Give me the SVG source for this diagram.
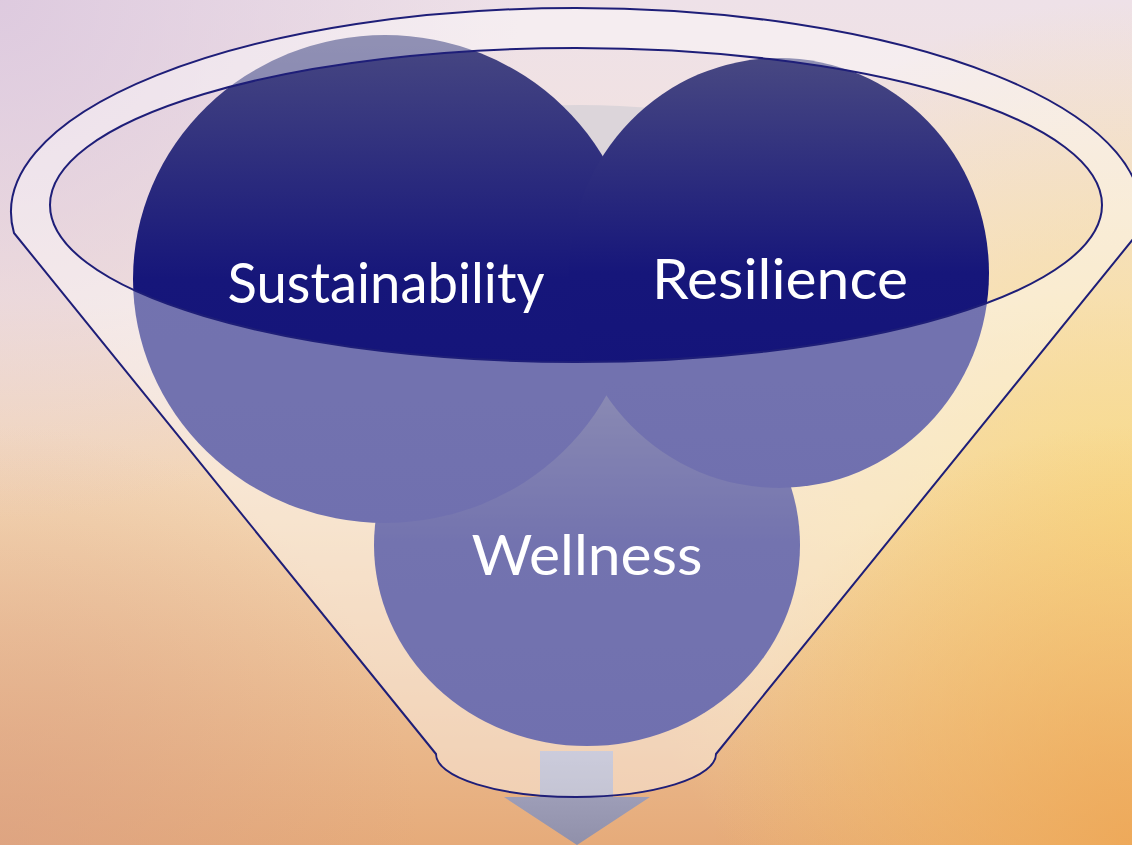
<svg xmlns="http://www.w3.org/2000/svg" width="1132" height="845" viewBox="0 0 1132 845">
  <defs>
    <!-- soft sunset backdrop -->
    <linearGradient id="bgBase" x1="0" y1="0" x2="0" y2="1">
      <stop offset="0" stop-color="#eee1e8"/>
      <stop offset="0.35" stop-color="#f5e3da"/>
      <stop offset="0.62" stop-color="#f2d2ae"/>
      <stop offset="1" stop-color="#e6ab7a"/>
    </linearGradient>
    <radialGradient id="bgLavender" cx="0" cy="0" r="520" gradientUnits="userSpaceOnUse">
      <stop offset="0" stop-color="#dcc8de" stop-opacity="0.9"/>
      <stop offset="1" stop-color="#dcc8de" stop-opacity="0"/>
    </radialGradient>
    <radialGradient id="bgYellow" cx="1132" cy="520" r="520" gradientUnits="userSpaceOnUse">
      <stop offset="0" stop-color="#f9dc86" stop-opacity="0.9"/>
      <stop offset="1" stop-color="#f9dc86" stop-opacity="0"/>
    </radialGradient>
    <radialGradient id="bgOrange" cx="1132" cy="845" r="420" gradientUnits="userSpaceOnUse">
      <stop offset="0" stop-color="#eea654" stop-opacity="0.85"/>
      <stop offset="1" stop-color="#eea654" stop-opacity="0"/>
    </radialGradient>
    <radialGradient id="bgRose" cx="0" cy="845" r="420" gradientUnits="userSpaceOnUse">
      <stop offset="0" stop-color="#d9a086" stop-opacity="0.6"/>
      <stop offset="1" stop-color="#d9a086" stop-opacity="0"/>
    </radialGradient>

    <!-- circle fill: lighter at the top, deep navy below -->
    <linearGradient id="ballFill" x1="0" y1="0" x2="0" y2="1">
      <stop offset="0" stop-color="#484882"/>
      <stop offset="0.5" stop-color="#16167a"/>
      <stop offset="1" stop-color="#12127a"/>
    </linearGradient>

    <linearGradient id="arrowFill" x1="0" y1="0" x2="0" y2="1">
      <stop offset="0" stop-color="#aaaac4"/>
      <stop offset="1" stop-color="#9090aa"/>
    </linearGradient>
  </defs>

  <style>
    .ball { fill: url(#ballFill); }
    .label { fill: #ffffff; font-family: Lato, "Open Sans", "Liberation Sans", sans-serif; font-size: 56px; text-anchor: middle; }
    .funnel-glass { fill: #ffffff; fill-opacity: 0.4; fill-rule: evenodd; }
    .funnel-edge { fill: none; stroke: #1e1e78; stroke-width: 2; stroke-linejoin: round; }
  </style>

  <!-- backdrop -->
  <g id="background">
    <rect width="1132" height="845" fill="url(#bgBase)"/>
    <rect width="1132" height="845" fill="url(#bgLavender)"/>
    <rect width="1132" height="845" fill="url(#bgYellow)"/>
    <rect width="1132" height="845" fill="url(#bgOrange)"/>
    <rect width="1132" height="845" fill="url(#bgRose)"/>
  </g>

  <!-- outflow arrow under the funnel spout -->
  <g id="arrow">
    <path d="M540 751 H613 V797 H650 L577 845 L504 797 H540 Z" fill="url(#arrowFill)"/>
  </g>

  <!-- dim funnel interior visible between the two upper circles -->
  <g id="funnel-back">
    <path d="M540 106 Q600 103 660 109 L660 200 L540 200 Z" fill="#dcd5da"/>
  </g>

  <g id="node-wellness">
    <ellipse class="ball" cx="587" cy="545" rx="213" ry="201"/>
    <text class="label" x="587" y="575" textLength="231" lengthAdjust="spacingAndGlyphs">Wellness</text>
  </g>

  <g id="node-sustainability">
    <ellipse class="ball" cx="385" cy="279" rx="252" ry="244"/>
    <text class="label" x="386" y="303" textLength="317" lengthAdjust="spacingAndGlyphs">Sustainability</text>
  </g>

  <g id="node-resilience">
    <ellipse class="ball" cx="779" cy="273" rx="210" ry="215"/>
    <text class="label" x="780" y="299" textLength="256" lengthAdjust="spacingAndGlyphs">Resilience</text>
  </g>

  <!-- translucent funnel body with an open mouth -->
  <g id="funnel">
    <path class="funnel-glass" d="M14 233 A565 204 0 1 1 1138 233 L716 754 A140 43 0 0 1 436 754 Z M50 205 A526 157 0 1 0 1102 205 A526 157 0 1 0 50 205 Z"/>
    <path class="funnel-edge" d="M14 233 A565 204 0 1 1 1138 233 L716 754 A140 43 0 0 1 436 754 Z"/>
    <ellipse class="funnel-edge" cx="576" cy="205" rx="526" ry="157"/>
  </g>
</svg>
